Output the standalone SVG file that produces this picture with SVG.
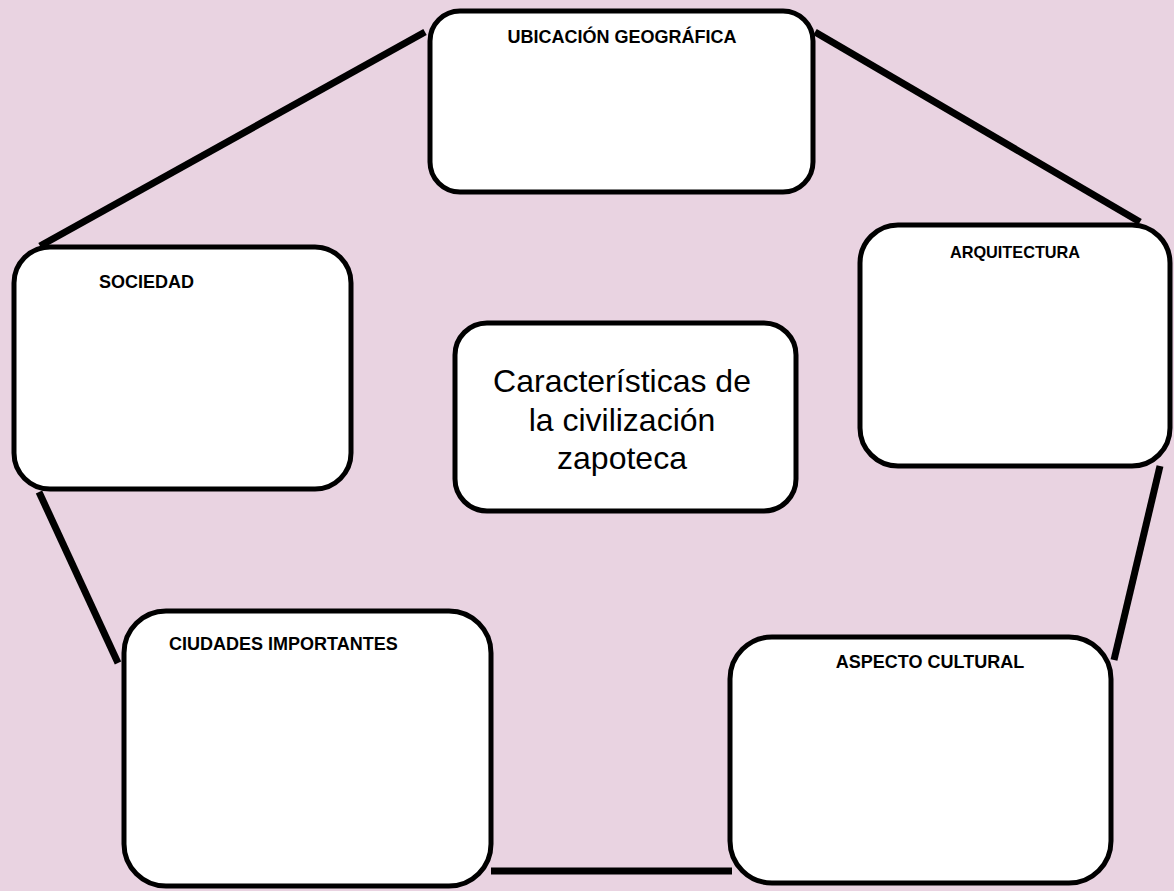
<svg xmlns="http://www.w3.org/2000/svg" width="1174" height="891" viewBox="0 0 1174 891">
<style>
.box{fill:#ffffff;stroke:#000000;stroke-width:5}
.lbl{font-family:"Liberation Sans",Arial,sans-serif;font-weight:bold;fill:#000000}
.ctr{font-family:"Liberation Sans",Arial,sans-serif;font-size:32px;fill:#000000;text-anchor:middle}
.con{stroke:#000000;stroke-width:7;fill:none}
</style>
<rect x="0" y="0" width="1174" height="891" fill="#E9D3E1"/>
<g id="connectors">
<line class="con" x1="425" y1="32" x2="40" y2="246"/>
<line class="con" x1="815" y1="32" x2="1140" y2="222"/>
<line class="con" x1="1160" y1="466" x2="1114" y2="660"/>
<line class="con" x1="39" y1="492" x2="118" y2="663"/>
<line class="con" x1="491" y1="871" x2="732" y2="871"/>
</g>
<g id="ubicacion">
<rect class="box" x="430" y="11" width="383" height="181" rx="30"/>
<text class="lbl" x="622" y="43" font-size="18" text-anchor="middle">UBICACIÓN GEOGRÁFICA</text>
</g>
<g id="arquitectura">
<rect class="box" x="860" y="225" width="310" height="241" rx="38"/>
<text class="lbl" x="1015" y="258" font-size="16.3" text-anchor="middle">ARQUITECTURA</text>
</g>
<g id="sociedad">
<rect class="box" x="14" y="247" width="337" height="242" rx="36"/>
<text class="lbl" x="99" y="288" font-size="18">SOCIEDAD</text>
</g>
<g id="centro">
<rect class="box" x="455" y="323" width="341" height="188" rx="32"/>
<text class="ctr" x="622" y="392">Características de</text>
<text class="ctr" x="622" y="431">la civilización</text>
<text class="ctr" x="622" y="469">zapoteca</text>
</g>
<g id="ciudades">
<rect class="box" x="124" y="611" width="367" height="275" rx="42"/>
<text class="lbl" x="169" y="650" font-size="18">CIUDADES IMPORTANTES</text>
</g>
<g id="aspecto">
<rect class="box" x="730" y="637" width="381" height="246" rx="42"/>
<text class="lbl" x="930" y="668" font-size="18" text-anchor="middle">ASPECTO CULTURAL</text>
</g>
</svg>
